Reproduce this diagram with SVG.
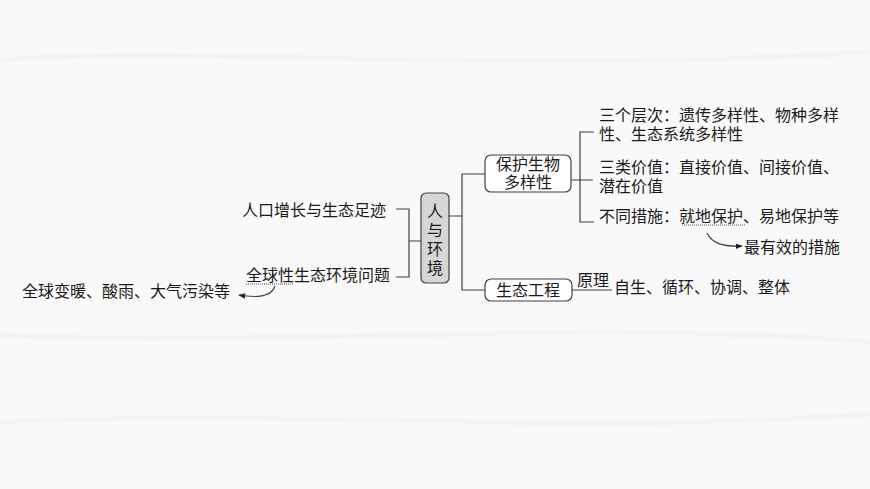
<svg xmlns="http://www.w3.org/2000/svg" width="870" height="489" viewBox="0 0 870 489">
<style>
.t{font-family:"Liberation Sans","Noto Sans CJK SC",sans-serif;font-size:16px;fill:#1a1a1a}
.c{text-anchor:middle}
.ln{fill:none;stroke:#404040;stroke-width:1.2}
.box{fill:#ffffff;stroke:#404040;stroke-width:1.2}
.ul{fill:none;stroke:#555;stroke-width:1;stroke-dasharray:1 1}
</style>
<defs>
<marker id="ah" viewBox="0 0 10 10" refX="9" refY="5" markerWidth="7" markerHeight="7" orient="auto-start-reverse" markerUnits="userSpaceOnUse">
<path d="M0,1 L10,5 L0,9 z" fill="#222"/>
</marker>
</defs>
<rect width="870" height="489" fill="#f9f9f9"/>
<g fill="none" stroke="#f2f2f2" stroke-width="5">
<path d="M0 60 C200 45 500 75 870 52"/>
<path d="M0 335 C250 348 600 318 870 342"/>
<path d="M0 422 C300 408 550 436 870 414"/>
</g>
<g id="connectors">
<path class="ln" d="M396 209 H409 V277 H396 M409 241 H421"/>
<path class="ln" d="M449 216 H462 M485 174 H462 V290 H485"/>
<path class="ln" d="M571 180 H593 M594 132 H580 V222 H594"/>
<path class="ln" d="M572 290 H612"/>
<path class="ul" d="M246 284 H293"/>
<path class="ul" d="M682 225 H745"/>
<path class="ln" d="M275 286 C272 295 262 299 239 295" marker-end="url(#ah)"/>
<path class="ln" d="M707 233 C712 243 722 247 742 246" marker-end="url(#ah)"/>
</g>
<g id="center">
<rect x="421" y="193" width="28" height="90" rx="5" fill="#d6d6d6" stroke="#404040" stroke-width="1.2"/>
<text class="t c" x="435" y="217">人<tspan x="435" dy="19">与</tspan><tspan x="435" dy="19">环</tspan><tspan x="435" dy="19">境</tspan></text>
</g>
<g id="n-footprint"><text class="t" x="242" y="216">人口增长与生态足迹</text></g>
<g id="n-global"><text class="t" x="246" y="281">全球性生态环境问题</text></g>
<g id="n-global-ex"><text class="t" x="22" y="297">全球变暖、酸雨、大气污染等</text></g>
<g id="n-bio">
<rect class="box" x="485" y="155" width="86" height="37" rx="6"/>
<text class="t c" x="528" y="170">保护生物<tspan x="528" dy="18">多样性</tspan></text>
</g>
<g id="n-eco">
<rect class="box" x="485" y="279" width="87" height="22" rx="6"/>
<text class="t c" x="528" y="296">生态工程</text>
</g>
<g id="n-levels">
<text class="t" x="599" y="121">三个层次：遗传多样性、物种多样<tspan x="599" dy="19">性、生态系统多样性</tspan></text>
</g>
<g id="n-values">
<text class="t" x="599" y="173">三类价值：直接价值、间接价值、<tspan x="599" dy="19">潜在价值</tspan></text>
</g>
<g id="n-measures"><text class="t" x="599" y="222">不同措施：就地保护、易地保护等</text></g>
<g id="n-best"><text class="t" x="744" y="253">最有效的措施</text></g>
<g id="n-principle"><text class="t" x="577" y="286">原理</text></g>
<g id="n-principles"><text class="t" x="614" y="293">自生、循环、协调、整体</text></g>
</svg>
